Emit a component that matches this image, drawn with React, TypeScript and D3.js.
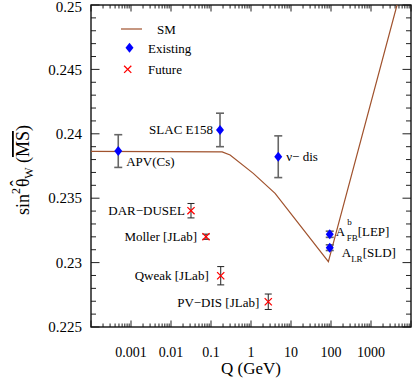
import { useRef, useEffect } from 'react';
import * as d3 from 'd3';

// SM running of the weak mixing angle
const smQ = [0.0001, 0.19, 0.3, 1.14, 4.0, 86, 4470];
const smVal = [0.23863, 0.2386, 0.23835, 0.23693, 0.23538, 0.23007, 0.25];

// existing measurements
const existingNames = ['APV(Cs)', 'SLAC E158', 'ν− dis', 'AFB_LEP', 'ALR_SLD'];
const existingQ = [0.00048, 0.168, 4.8, 93, 93];
const existingVal = [0.23866, 0.2403, 0.23822, 0.2322, 0.23116];
const existingErr = [0.00127, 0.0013, 0.00162, 0.00024, 0.00022];

// future experiments
const futureNames = ['DAR−DUSEL', 'Moller [JLab]', 'Qweak [JLab]', 'PV−DIS [JLab]'];
const futureQ = [0.0316, 0.075, 0.175, 2.7];
const futureVal = [0.23403, 0.23201, 0.22898, 0.22696];
const futureErr = [0.00056, 0.0002, 0.00071, 0.0006];

const xTickVals = [0.001, 0.01, 0.1, 1, 10, 100, 1000];
const xTickLabels = ['0.001', '0.01', '0.1', '1', '10', '100', '1000'];
const yTickVals = [0.225, 0.23, 0.235, 0.24, 0.245, 0.25];
const yTickLabels = ['0.225', '0.23', '0.235', '0.24', '0.245', '0.25'];

const W = 415;
const H = 379;
const FONT = "'Liberation Serif', 'Times New Roman', serif";
const BROWN = '#a0522d';

// label offsets relative to their point: [dx, dy, anchor]
const existingLabelPos: [number, number, string][] = [
  [8, 15, 'start'],
  [-7, 4, 'end'],
  [8, 4, 'start'],
  [6, 2, 'start'],
  [12, 9, 'start'],
];
const futureLabelPos: [number, number, string][] = [
  [-6, 4.5, 'end'],
  [-9, 4, 'end'],
  [-12, 4.5, 'end'],
  [-9, 5.5, 'end'],
];

export default function App() {
  const svgRef = useRef<SVGSVGElement>(null);

  useEffect(() => {
    if (!svgRef.current) return;
    const svg = d3.select(svgRef.current);
    svg.selectAll('*').remove();

    const margin = { top: 5, right: 4, bottom: 52, left: 91 };
    const x = d3.scaleLog().domain([1e-4, 1e4]).range([margin.left, W - margin.right]);
    const y = d3.scaleLinear().domain([0.225, 0.25]).range([H - margin.bottom, margin.top]);
    const [x0, x1] = x.range();
    const [y0, y1] = y.range();

    svg.append('rect').attr('width', W).attr('height', H).attr('fill', '#fff');

    const defs = svg.append('defs');
    defs.append('clipPath').attr('id', 'plotclip')
      .append('rect').attr('x', x0).attr('y', y1).attr('width', x1 - x0).attr('height', y0 - y1);

    // ticks, mirrored on all four sides
    const ax = svg.append('g').attr('stroke', '#222').attr('stroke-width', 1);
    const xMinor: number[] = [];
    for (let e = -4; e < 4; e++) for (let m = 2; m <= 9; m++) xMinor.push(m * Math.pow(10, e));
    const xMajor = d3.range(-4, 5).map(e => Math.pow(10, e));
    xMinor.forEach(v => {
      ax.append('line').attr('x1', x(v)).attr('x2', x(v)).attr('y1', y0).attr('y2', y0 - 3.5);
      ax.append('line').attr('x1', x(v)).attr('x2', x(v)).attr('y1', y1).attr('y2', y1 + 3.5);
    });
    xMajor.forEach(v => {
      ax.append('line').attr('x1', x(v)).attr('x2', x(v)).attr('y1', y0).attr('y2', y0 - 6.5);
      ax.append('line').attr('x1', x(v)).attr('x2', x(v)).attr('y1', y1).attr('y2', y1 + 6.5);
    });
    d3.range(0, 26).forEach(i => {
      const v = 0.225 + i * 0.001;
      const len = i % 5 === 0 ? 8.5 : 5;
      ax.append('line').attr('x1', x0).attr('x2', x0 + len).attr('y1', y(v)).attr('y2', y(v));
      ax.append('line').attr('x1', x1).attr('x2', x1 - len).attr('y1', y(v)).attr('y2', y(v));
    });

    // frame
    svg.append('rect')
      .attr('x', x0).attr('y', y1).attr('width', x1 - x0).attr('height', y0 - y1)
      .attr('fill', 'none').attr('stroke', '#111').attr('stroke-width', 1.4);

    // tick labels
    xTickVals.forEach((v, i) => {
      svg.append('text')
        .attr('x', x(v)).attr('y', 357)
        .attr('text-anchor', 'middle')
        .style('font-family', FONT).style('font-size', '14px')
        .text(xTickLabels[i]);
    });
    yTickVals.forEach((v, i) => {
      svg.append('text')
        .attr('x', x0 - 9).attr('y', Math.max(y(v), 6.5))
        .attr('dy', '0.34em')
        .attr('text-anchor', 'end')
        .style('font-family', FONT).style('font-size', '15px')
        .text(yTickLabels[i]);
    });

    // axis titles
    svg.append('text')
      .attr('x', (x0 + x1) / 2).attr('y', 374)
      .attr('text-anchor', 'middle')
      .style('font-family', FONT).style('font-size', '17px')
      .text('Q (GeV)');

    const yl = svg.append('text')
      .attr('transform', `translate(29,${(y0 + y1) / 2 + 4}) rotate(-90)`)
      .attr('text-anchor', 'middle')
      .style('font-family', FONT).style('font-size', '18px');
    yl.append('tspan').text('sin');
    yl.append('tspan').style('font-size', '12px').attr('dy', -9).text('2');
    yl.append('tspan').attr('dy', 9).attr('dx', 1).text('θ');
    // hat over theta
    yl.append('tspan').attr('dx', -8).attr('dy', -6).text('ˆ');
    yl.append('tspan').style('font-size', '12px').attr('dx', 1.5).attr('dy', 10).text('W');
    yl.append('tspan').attr('dy', -4).text(' (');
    yl.append('tspan').style('text-decoration', 'overline').text('MS');
    yl.append('tspan').text(')');

    // SM curve
    const smData = smQ.map((q, i) => [q, smVal[i]] as [number, number]);
    svg.append('path')
      .datum(smData)
      .attr('clip-path', 'url(#plotclip)')
      .attr('d', d3.line<[number, number]>().x(d => x(d[0])).y(d => y(d[1])))
      .attr('fill', 'none').attr('stroke', BROWN).attr('stroke-width', 1.2);

    const diamond = (cx: number, cy: number) =>
      `M${cx},${cy - 5}L${cx + 4},${cy}L${cx},${cy + 5}L${cx - 4},${cy}Z`;
    const cross = (cx: number, cy: number, r: number) =>
      `M${cx - r},${cy - r}L${cx + r},${cy + r}M${cx - r},${cy + r}L${cx + r},${cy - r}`;

    const errBar = (g: any, cx: number, v: number, e: number, color: string, sw: number, cap: number) => {
      g.append('line').attr('x1', cx).attr('x2', cx).attr('y1', y(v - e)).attr('y2', y(v + e))
        .attr('stroke', color).attr('stroke-width', sw);
      [v - e, v + e].forEach(t => {
        g.append('line').attr('x1', cx - cap).attr('x2', cx + cap).attr('y1', y(t)).attr('y2', y(t))
          .attr('stroke', color).attr('stroke-width', sw);
      });
    };

    const pts = svg.append('g');
    existingQ.forEach((q, i) => {
      const cx = x(q);
      errBar(pts, cx, existingVal[i], existingErr[i], '#666', 1.6, 4);
      pts.append('path').attr('d', diamond(cx, y(existingVal[i]))).attr('fill', '#0000ff');
    });
    futureQ.forEach((q, i) => {
      const cx = x(q);
      errBar(pts, cx, futureVal[i], futureErr[i], '#222', 1, 3.5);
      pts.append('path').attr('d', cross(cx, y(futureVal[i]), 3.6))
        .attr('stroke', '#ff0000').attr('stroke-width', 1.3).attr('fill', 'none');
    });

    // point labels
    const lab = svg.append('g').style('font-family', FONT).style('font-size', '13px');
    existingNames.forEach((name, i) => {
      const [dx, dy, anchor] = existingLabelPos[i];
      const t = lab.append('text')
        .attr('x', x(existingQ[i]) + dx).attr('y', y(existingVal[i]) + dy)
        .attr('text-anchor', anchor);
      if (name === 'AFB_LEP') {
        t.append('tspan').text('A');
        t.append('tspan').style('font-size', '9px').attr('dx', 2).attr('dy', -11).text('b');
        t.append('tspan').style('font-size', '9px').attr('dx', -5).attr('dy', 16).text('FB');
        t.append('tspan').attr('dy', -5).text('[LEP]');
      } else if (name === 'ALR_SLD') {
        t.append('tspan').text('A');
        t.append('tspan').style('font-size', '9px').attr('dy', 5).text('LR');
        t.append('tspan').attr('dy', -5).text('[SLD]');
      } else {
        t.text(name);
      }
    });
    futureNames.forEach((name, i) => {
      const [dx, dy, anchor] = futureLabelPos[i];
      lab.append('text')
        .attr('x', x(futureQ[i]) + dx).attr('y', y(futureVal[i]) + dy)
        .attr('text-anchor', anchor)
        .text(name);
    });

    // legend
    const lg = svg.append('g').style('font-family', FONT).style('font-size', '13px');
    lg.append('line').attr('x1', 121).attr('x2', 142).attr('y1', 29).attr('y2', 29)
      .attr('stroke', BROWN).attr('stroke-width', 1.2);
    lg.append('text').attr('x', 157).attr('y', 33.5).text('SM');
    lg.append('path').attr('d', diamond(129.5, 47.7)).attr('fill', '#0000ff');
    lg.append('text').attr('x', 148).attr('y', 52.5).text('Existing');
    lg.append('path').attr('d', cross(127.7, 69.3, 3.6))
      .attr('stroke', '#ff0000').attr('stroke-width', 1.3).attr('fill', 'none');
    lg.append('text').attr('x', 148).attr('y', 73.8).text('Future');
  }, []);

  return (
    <div style={{ position: 'absolute', left: 0, top: 0 }}>
      <svg ref={svgRef} width={W} height={H} />
    </div>
  );
}
